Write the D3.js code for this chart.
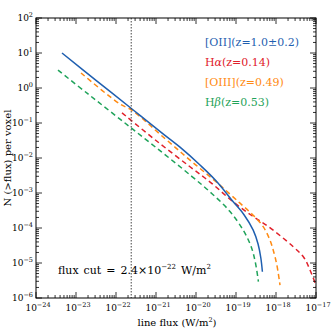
<!DOCTYPE html>
<html><head><meta charset="utf-8">
<script src="https://cdn.jsdelivr.net/npm/d3@7"></script>
<style>body{margin:0;background:#fff}svg{display:block}</style>
</head><body>
<svg id="c" width="335" height="335"></svg>
<script>
// ---- data (log10 values) ----
const xTickExponents = [-24, -23, -22, -21, -20, -19, -18, -17];
const yTickExponents = [2, 1, 0, -1, -2, -3, -4, -5, -6];
const fluxCut = 2.4e-22;

const oiiLogFlux = [-23.35, -22.5, -21.6, -20.8, -20.4, -19.9, -19.5, -19.07, -18.8, -18.57, -18.45, -18.38, -18.34];
const oiiLogN    = [1.0, 0.22, -0.6, -1.33, -1.69, -2.2, -2.65, -3.25, -3.62, -4.06, -4.45, -4.85, -5.25];

const haLogFlux = [-21.85, -21.0, -20.15, -19.6, -19.075, -18.6, -18.19, -17.575, -17.3, -17.15, -16.975];
const haLogN    = [-0.71, -1.5, -2.25, -2.73, -3.25, -3.65, -3.96, -4.53, -4.85, -5.2, -5.71];

const oiiiLogFlux = [-22.875, -21.9, -21.61, -20.8, -20.15, -19.5, -18.9, -18.55, -18.32, -18.15, -18.07, -17.98, -17.9];
const oiiiLogN    = [0.43, -0.46, -0.63, -1.42, -2.06, -2.68, -3.29, -3.66, -3.96, -4.35, -4.63, -5.05, -5.63];

const hbLogFlux = [-23.45, -22.7, -21.9, -21.0, -20.1, -19.6, -19.15, -18.82, -18.65, -18.57, -18.5, -18.44];
const hbLogN    = [0.51, -0.17, -0.89, -1.7, -2.53, -3.02, -3.53, -4.06, -4.45, -4.72, -5.08, -5.53];

const seriesNames  = ["[OII](z=1.0±0.2)", "Hα(z=0.14)", "[OIII](z=0.49)", "Hβ(z=0.53)"];
const seriesColors = ["#1f5fb0", "#e0202a", "#ff8a12", "#1fa35a"];

// ---- chart ----
const svg = d3.select("#c");
const L = 36, R = 316, T = 18, B = 298;
const x = d3.scaleLog().domain([1e-24, 1e-17]).range([L, R]);
const y = d3.scaleLog().domain([1e-6, 1e2]).range([B, T]);
const serif = "'DejaVu Serif', serif";

const series = [
  {name: seriesNames[1], color: seriesColors[1], dash: "5,3.5", fx: haLogFlux, ny: haLogN},
  {name: seriesNames[2], color: seriesColors[2], dash: "5,3.5", fx: oiiiLogFlux, ny: oiiiLogN},
  {name: seriesNames[3], color: seriesColors[3], dash: "5,3.5", fx: hbLogFlux, ny: hbLogN},
  {name: seriesNames[0], color: seriesColors[0], dash: null, fx: oiiLogFlux, ny: oiiLogN}
];

const line = d3.line()
  .x(d => x(Math.pow(10, d[0])))
  .y(d => y(Math.pow(10, d[1])))
  .curve(d3.curveCatmullRom.alpha(0.5));

svg.append("clipPath").attr("id", "clp").append("rect")
  .attr("x", L).attr("y", T).attr("width", R - L).attr("height", B - T);

const g = svg.append("g").attr("clip-path", "url(#clp)");
series.forEach(s => {
  const pts = s.fx.map((v, i) => [v, s.ny[i]]);
  g.append("path").attr("d", line(pts)).attr("fill", "none")
    .attr("stroke", s.color).attr("stroke-width", 1.5)
    .attr("stroke-dasharray", s.dash);
});

// flux cut line
g.append("line").attr("x1", x(fluxCut)).attr("x2", x(fluxCut))
  .attr("y1", T).attr("y2", B).attr("stroke", "#444").attr("stroke-width", 1)
  .attr("stroke-dasharray", "1.5,1.5");

// ticks (inward, all four sides)
const ax = svg.append("g").attr("stroke", "#000").attr("stroke-width", 0.8);
function minorVals(exps) {
  const out = [];
  const lo = d3.min(exps), hi = d3.max(exps);
  for (let e = lo; e < hi; e++) for (let m = 2; m <= 9; m++) out.push(m * Math.pow(10, e));
  return out;
}
const xMajor = xTickExponents.map(e => Math.pow(10, e));
const yMajor = yTickExponents.map(e => Math.pow(10, e));
const xMinor = minorVals(xTickExponents), yMinor = minorVals(yTickExponents);
const MJ = 6, MN = 3;
xMajor.forEach(v => { const px = x(v);
  ax.append("line").attr("x1", px).attr("x2", px).attr("y1", B).attr("y2", B - MJ);
  ax.append("line").attr("x1", px).attr("x2", px).attr("y1", T).attr("y2", T + MJ); });
xMinor.forEach(v => { const px = x(v);
  ax.append("line").attr("x1", px).attr("x2", px).attr("y1", B).attr("y2", B - MN);
  ax.append("line").attr("x1", px).attr("x2", px).attr("y1", T).attr("y2", T + MN); });
yMajor.forEach(v => { const py = y(v);
  ax.append("line").attr("y1", py).attr("y2", py).attr("x1", L).attr("x2", L + MJ);
  ax.append("line").attr("y1", py).attr("y2", py).attr("x1", R).attr("x2", R - MJ); });
yMinor.forEach(v => { const py = y(v);
  ax.append("line").attr("y1", py).attr("y2", py).attr("x1", L).attr("x2", L + MN);
  ax.append("line").attr("y1", py).attr("y2", py).attr("x1", R).attr("x2", R - MN); });

svg.append("rect").attr("x", L).attr("y", T).attr("width", R - L).attr("height", B - T)
  .attr("fill", "none").attr("stroke", "#000").attr("stroke-width", 1);

// tick labels
function powLabel(sel, e) {
  sel.append("tspan").text("10");
  sel.append("tspan").attr("dy", -4).attr("font-size", 6.5).text(e < 0 ? "−" + (-e) : String(e));
}
xTickExponents.forEach(e => {
  const t = svg.append("text").attr("x", x(Math.pow(10, e)) + 2).attr("y", B + 13)
    .attr("text-anchor", "middle").attr("font-family", serif).attr("font-size", 9);
  powLabel(t, e);
});
yTickExponents.forEach(e => {
  const t = svg.append("text").attr("x", L - 3).attr("y", y(Math.pow(10, e)) + 3)
    .attr("text-anchor", "end").attr("font-family", serif).attr("font-size", 9);
  powLabel(t, e);
});

// axis titles
const xt = svg.append("text").attr("x", 177).attr("y", 326).attr("text-anchor", "middle")
  .attr("font-family", serif).attr("font-size", 10);
xt.append("tspan").text("line flux (W/m");
xt.append("tspan").attr("dy", -4).attr("font-size", 6.5).text("2");
xt.append("tspan").attr("dy", 4).text(")");

svg.append("text").attr("transform", "translate(11,158) rotate(-90)")
  .attr("text-anchor", "middle").attr("font-family", serif).attr("font-size", 10)
  .text("N (>flux) per voxel");

// legend
[0, 1, 2, 3].forEach((i, k) => {
  const t = svg.append("text").attr("x", 205).attr("y", 46 + k * 20)
    .attr("font-family", serif).attr("font-size", 11).attr("fill", seriesColors[i]);
  const nm = seriesNames[i];
  if (nm.startsWith("H")) {
    t.append("tspan").text("H");
    t.append("tspan").attr("font-style", "italic").text(nm[1]);
    t.append("tspan").text(nm.slice(2));
  } else t.text(nm);
});

// flux cut annotation
const ft = svg.append("text").attr("x", 58).attr("y", 274)
  .attr("font-family", serif).attr("font-size", 11).attr("word-spacing", 1.5);
ft.append("tspan").text("flux cut = 2.4×10");
ft.append("tspan").attr("dy", -5).attr("font-size", 7).text("−22");
ft.append("tspan").attr("dy", 5).text(" W/m");
ft.append("tspan").attr("dy", -5).attr("font-size", 7).text("2");
</script>
</body></html>
